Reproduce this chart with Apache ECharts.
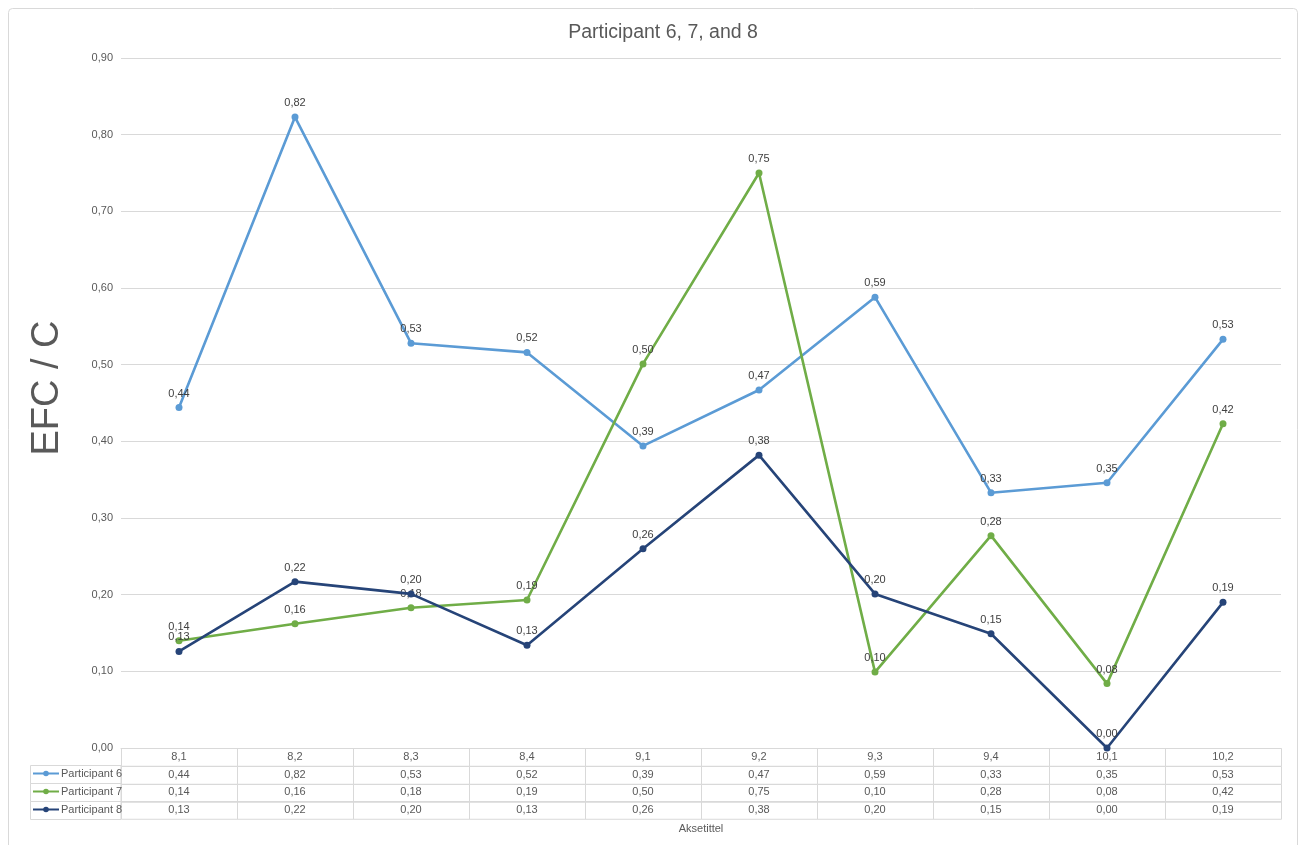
<!DOCTYPE html>
<html>
<head>
<meta charset="utf-8">
<script src="https://cdn.jsdelivr.net/npm/echarts@6/dist/echarts.min.js"></script>
<style>
html,body{margin:0;padding:0;background:#fff;}
#chart{width:1303px;height:845px;}
</style>
</head>
<body>
<div id="chart"></div>
<script>
var categories = ['8,1','8,2','8,3','8,4','9,1','9,2','9,3','9,4','10,1','10,2'];
var seriesNames = ['Participant 6','Participant 7','Participant 8'];
var participant6 = [0.444,0.823,0.528,0.516,0.394,0.467,0.588,0.333,0.346,0.533];
var participant7 = [0.140,0.162,0.183,0.193,0.501,0.750,0.099,0.277,0.084,0.423];
var participant8 = [0.126,0.217,0.201,0.134,0.260,0.382,0.201,0.149,0.000,0.190];
var colors = ['#5B9BD5','#70AD47','#264478'];
var FONT = '"Liberation Sans", Arial, Helvetica, sans-serif';

function fmt(v){ return v.toFixed(2).replace('.', ','); }

var allSeries = [participant6, participant7, participant8];

// table cells: row 0 = header (categories), rows 1..3 = series values
var tableData = [];
var tableText = [];
for (var c = 0; c < categories.length; c++) {
  tableData.push([c, 0]); tableText.push(categories[c]);
  for (var r = 0; r < allSeries.length; r++) {
    tableData.push([c, r + 1]); tableText.push(fmt(allSeries[r][c]));
  }
}

var chart = echarts.init(document.getElementById('chart'));

var lineSeries = allSeries.map(function(arr, i){
  return {
    name: seriesNames[i],
    type: 'line',
    xAxisIndex: 0, yAxisIndex: 0,
    data: arr,
    symbol: 'circle',
    symbolSize: 7,
    lineStyle: { width: 2.6, color: colors[i] },
    itemStyle: { color: colors[i] },
    label: {
      show: true, position: 'top', distance: 5,
      fontSize: 11, color: '#404040', fontFamily: FONT,
      formatter: function(p){ return fmt(p.value); }
    },
    z: 3 + i
  };
});

var legends = seriesNames.map(function(n, i){
  return {
    data: [n],
    left: 32,
    top: 768 + i * 18,
    itemWidth: 26,
    itemHeight: 7,
    padding: 0,
    selectedMode: false,
    textStyle: { fontSize: 11, color: '#595959', fontFamily: FONT, padding: [0,0,0,-3] }
  };
});

var option = {
  animation: false,
  color: colors,
  title: {
    text: 'Participant 6, 7, and 8',
    left: 658, top: 18, textAlign: 'center',
    textStyle: { fontSize: 19.5, fontWeight: 'normal', color: '#595959', fontFamily: FONT }
  },
  legend: legends,
  grid: [
    { left: 121, right: 22, top: 58, bottom: 97 },
    { left: 121, right: 22, top: 748, height: 71 }
  ],
  xAxis: [
    {
      type: 'category', gridIndex: 0, data: categories, boundaryGap: true,
      axisLine: { show: true, lineStyle: { color: '#d9d9d9' } },
      axisTick: { show: false }, axisLabel: { show: false },
      name: 'Aksetittel', nameLocation: 'middle', nameGap: 75,
      nameTextStyle: { fontSize: 11, color: '#595959', fontFamily: FONT }
    },
    {
      type: 'category', gridIndex: 1, data: categories, boundaryGap: true, show: false
    }
  ],
  yAxis: [
    {
      type: 'value', gridIndex: 0, min: 0, max: 0.9, interval: 0.1,
      axisLine: { show: false }, axisTick: { show: false },
      axisLabel: { fontSize: 11, color: '#595959', fontFamily: FONT, margin: 8,
        formatter: function(v){ return fmt(v); } },
      splitLine: { lineStyle: { color: '#d9d9d9', width: 1 } }
    },
    {
      type: 'category', gridIndex: 1, data: ['hdr','p6','p7','p8'], inverse: true, show: false
    }
  ],
  graphic: [
    { type: 'rect', shape: { x: 8.5, y: 8.5, width: 1289, height: 860, r: 4 },
      style: { fill: 'none', stroke: '#d9d9d9', lineWidth: 1 }, silent: true, z: -10 },
    { type: 'rect', shape: { x: 30.5, y: 765.5, width: 90.5, height: 18 },
      style: { fill: 'none', stroke: '#d9d9d9', lineWidth: 1 }, silent: true },
    { type: 'rect', shape: { x: 30.5, y: 783.5, width: 90.5, height: 18 },
      style: { fill: 'none', stroke: '#d9d9d9', lineWidth: 1 }, silent: true },
    { type: 'rect', shape: { x: 30.5, y: 801.5, width: 90.5, height: 18 },
      style: { fill: 'none', stroke: '#d9d9d9', lineWidth: 1 }, silent: true },
    { type: 'text', x: 48, y: 388, rotation: Math.PI / 2,
      style: { text: 'EFC / C', font: '38px ' + FONT, fill: '#595959',
        align: 'center', verticalAlign: 'middle' }, silent: true }
  ],
  series: lineSeries.concat([{
    type: 'custom',
    xAxisIndex: 1, yAxisIndex: 1,
    data: tableData,
    silent: true,
    renderItem: function(params, api){
      var p = api.coord([api.value(0), api.value(1)]);
      var s = api.size([1, 1]);
      return {
        type: 'group',
        children: [
          { type: 'rect',
            shape: { x: Math.round(p[0] - s[0] / 2) + 0.5, y: Math.round(p[1] - s[1] / 2) + 0.5,
                     width: s[0], height: s[1] },
            style: { fill: 'none', stroke: '#d9d9d9', lineWidth: 1 } },
          { type: 'text', x: p[0], y: p[1],
            style: { text: tableText[params.dataIndex], fill: '#595959',
              font: '11px ' + FONT, align: 'center', verticalAlign: 'middle' } }
        ]
      };
    }
  }])
};

chart.setOption(option);
</script>
</body>
</html>
